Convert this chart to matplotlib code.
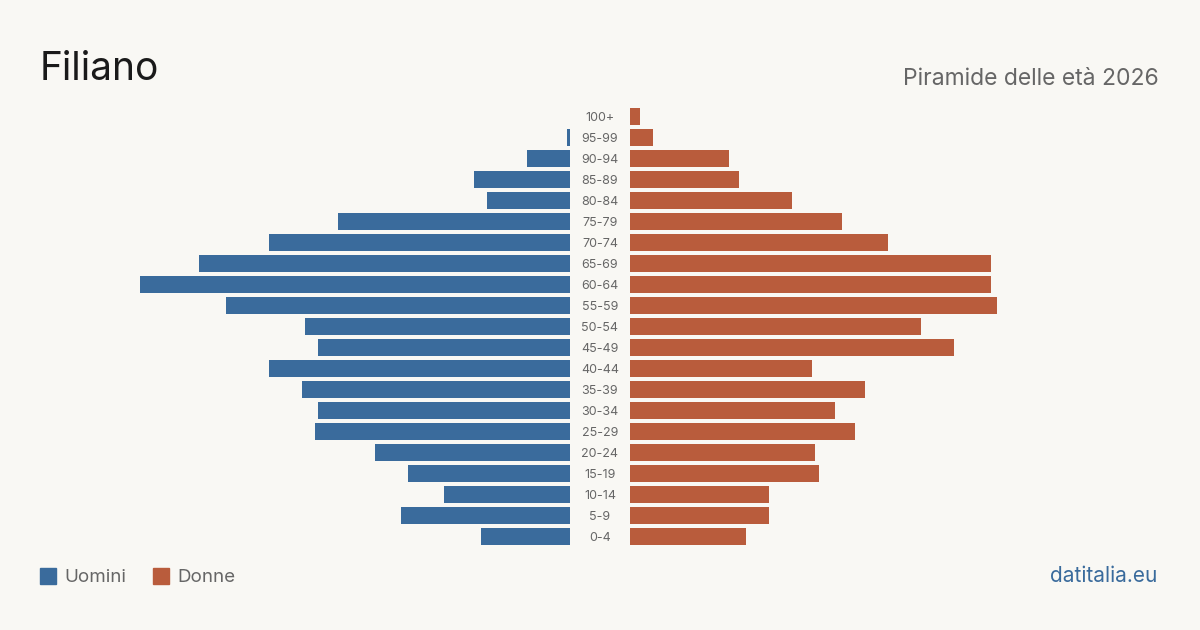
import matplotlib.pyplot as plt
from matplotlib.patches import Rectangle

plt.rcParams['font.family'] = ['Inter', 'DejaVu Sans']

# Age classes, bottom to top
ages = ['0-4', '5-9', '10-14', '15-19', '20-24', '25-29', '30-34', '35-39',
        '40-44', '45-49', '50-54', '55-59', '60-64', '65-69', '70-74',
        '75-79', '80-84', '85-89', '90-94', '95-99', '100+']
uomini = [27, 51, 38, 49, 59, 77, 76, 81, 91, 76, 80, 104, 130, 112, 91,
          70, 25, 29, 13, 1, 0]
donne = [35, 42, 42, 57, 56, 68, 62, 71, 55, 98, 88, 111, 109, 109, 78,
         64, 49, 33, 30, 7, 3]

bg = '#f9f8f4'
blue = '#3a6b9c'
orange = '#b95c3c'
grey = '#666666'

W, H = 1200, 630
fig = plt.figure(figsize=(12, 6.3), dpi=100, facecolor=bg)

px_per_unit = 3.31
half_w = 470
top, bottom = 106, 547
xmax = half_w / px_per_unit

axl = fig.add_axes([(570 - half_w) / W, 1 - bottom / H, half_w / W, (bottom - top) / H])
axr = fig.add_axes([630 / W, 1 - bottom / H, half_w / W, (bottom - top) / H])

y = list(range(len(ages)))
axl.barh(y, uomini, height=0.81, color=blue)
axr.barh(y, donne, height=0.81, color=orange)
axl.set_xlim(xmax, 0)
axr.set_xlim(0, xmax)
for ax in (axl, axr):
    ax.set_ylim(-0.5, len(ages) - 0.5)
    ax.axis('off')
    ax.set_facecolor('none')

for i, a in enumerate(ages):
    axr.text(-30 / px_per_unit, i - 0.07, a, ha='center', va='center', fontsize=9,
             color=grey, clip_on=False)

fig.text(40 / W, 1 - 80 / H, 'Filiano', fontsize=28, color='#1a1a1a',
         ha='left', va='baseline')
fig.text(1159 / W, 1 - 85 / H, 'Piramide delle età 2026', fontsize=16.5,
         color=grey, ha='right', va='baseline')

# legend
for x0, col, lab in [(40, blue, 'Uomini'), (153, orange, 'Donne')]:
    fig.patches.append(Rectangle((x0 / W, 1 - 584 / H), 16 / W, 16 / H,
                                 transform=fig.transFigure, color=col))
    fig.text((x0 + 24) / W, 1 - 582 / H, lab, fontsize=13.5, color=grey,
             ha='left', va='baseline')

fig.text(1157 / W, 1 - 582 / H, 'datitalia.eu', fontsize=15, color=blue,
         ha='right', va='baseline')

fig.savefig('out.png', dpi=100, facecolor=bg)
